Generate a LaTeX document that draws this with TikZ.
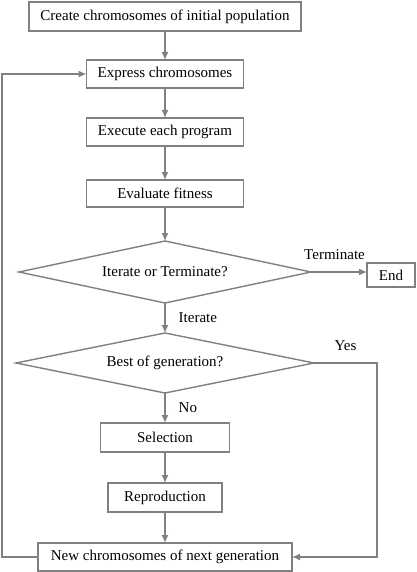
\documentclass[tikz,border=0pt]{standalone}
\usepackage{fontspec}
\setmainfont{Liberation Serif}
\usepackage{tikz}
\usetikzlibrary{arrows.meta,shapes,positioning}
\definecolor{linegray}{HTML}{808080}

\begin{document}
\begin{tikzpicture}[x=1pt, y=-1pt, >={Latex[length=8pt,width=7pt]}, font=\fontsize{15pt}{18pt}\selectfont]
\tikzstyle{block}=[draw=linegray, line width=1.4pt, shape=rectangle, minimum height=28pt, inner sep=0pt, outer sep=0pt]
\tikzstyle{decision}=[draw=linegray, line width=1.4pt, shape=diamond, aspect=5, minimum height=62pt, inner sep=0pt, outer sep=0pt]
\tikzstyle{line}=[draw=linegray, line width=1.4pt, ->]
\tikzstyle{tag}=[inner sep=0pt]
\useasboundingbox (0,0) rectangle (416,572);

\node[block, minimum width=272pt, minimum height=29pt] (0) at (165,16.5) {Create chromosomes of initial population};
\node[block, minimum width=157pt] (1) [below=29pt of 0] {Express chromosomes};
\node[block, minimum width=157pt] (2) [below=30pt of 1] {Execute each program};
\node[block, minimum width=157pt, minimum height=27pt] (3) [below=34pt of 2] {Evaluate fitness};
\node[decision, minimum width=292pt] (4) [below=34pt of 3] {Iterate or Terminate?};
\node[block, minimum width=48pt, minimum height=24pt] (5) at (391,275) {End};
\node[decision, minimum width=298pt, minimum height=60pt] (6) [below=30pt of 4] {Best of generation?};
\node[block, minimum width=129pt, minimum height=29pt] (7) [below=30pt of 6] {Selection};
\node[block, minimum width=114pt, minimum height=29pt] (8) [below=31pt of 7] {Reproduction};
\node[block, minimum width=254pt, minimum height=28pt] (9) [below=31pt of 8] {New chromosomes of next generation};

\draw[line] (0) -- (1);
\draw[line] (1) -- (2);
\draw[line] (2) -- (3);
\draw[line] (3) -- (4);
\draw[line] (4.east) -- node[tag, pos=0.42, above=12pt] {Terminate} (5.west |- 4.east);
\draw[line] (4) -- node[tag, right=13pt] {Iterate} (6);
\draw[line] (6) -- node[tag, right=13pt] {No} (7);
\draw[line] (7) -- (8);
\draw[line] (8) -- (9);
\draw[line] (6.east) -- node[tag, above=12pt] {Yes} ++(63,0) |- (9.east);
\draw[line] (9.west) -- ++(-36,0) |- (1.west);

\end{tikzpicture}
\end{document}
